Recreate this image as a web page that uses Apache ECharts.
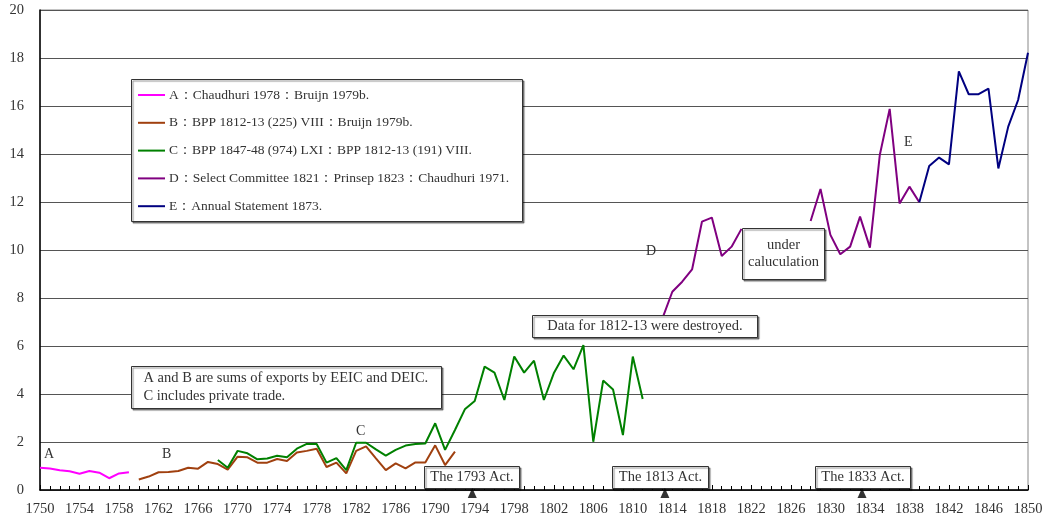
<!DOCTYPE html>
<html>
<head>
<meta charset="utf-8">
<script src="https://cdn.jsdelivr.net/npm/echarts@6/dist/echarts.min.js"></script>
<style>
html,body{margin:0;padding:0;background:#fff;}
#chart{width:1050px;height:521px;}
</style>
</head>
<body>
<div id="chart"></div>
<script>
// ---- data ----
const yearsA = [1750,1751,1752,1753,1754,1755,1756,1757,1758,1759];
const valuesA = [0.93,0.90,0.82,0.78,0.68,0.79,0.72,0.49,0.69,0.74];

const yearsB = [1760,1761,1762,1763,1764,1765,1766,1767,1768,1769,
                1770,1771,1772,1773,1774,1775,1776,1777,1778,1779,
                1780,1781,1782,1783,1784,1785,1786,1787,1788,1789,
                1790,1791,1792];
const valuesB = [0.44,0.56,0.74,0.75,0.79,0.93,0.89,1.17,1.08,0.85,
                 1.39,1.36,1.14,1.14,1.29,1.21,1.56,1.63,1.72,0.96,
                 1.14,0.69,1.63,1.82,1.32,0.83,1.11,0.90,1.15,1.15,
                 1.86,1.04,1.60];

const yearsC = [1768,1769,
                1770,1771,1772,1773,1774,1775,1776,1777,1778,1779,
                1780,1781,1782,1783,1784,1785,1786,1787,1788,1789,
                1790,1791,1792,1793,1794,1795,1796,1797,1798,1799,
                1800,1801,1802,1803,1804,1805,1806,1807,1808,1809,
                1810,1811];
const valuesC = [1.25,0.93,
                 1.63,1.53,1.28,1.31,1.43,1.36,1.72,1.92,1.92,1.14,
                 1.33,0.83,1.97,1.97,1.69,1.43,1.67,1.85,1.92,1.94,
                 2.78,1.67,2.50,3.36,3.71,5.14,4.89,3.75,5.56,4.89,
                 5.39,3.75,4.86,5.60,5.03,6.04,2.01,4.56,4.19,2.29,
                 5.56,3.79];

const yearsD = [1813,1814,1815,1816,1817,1818,1819,1820,1821,1822,1823,1824,1825,1826,1827,
                1828,1829,1830,1831,1832,1833,1834,1835,1836,1837,1838,1839];
const valuesD = [7.15,8.26,8.68,9.19,11.18,11.35,9.75,10.14,10.88,null,null,null,null,null,null,
                 11.21,12.54,10.63,9.82,10.14,11.39,10.10,13.96,15.88,11.94,12.64,11.99];

const yearsE = [1839,1840,1841,1842,1843,1844,1845,1846,1847,1848,1849,1850];
const valuesE = [11.99,13.50,13.85,13.57,17.44,16.49,16.49,16.72,13.40,15.14,16.25,18.22];

const seriesNames = [
  'A：Chaudhuri 1978：Bruijn 1979b.',
  'B：BPP 1812-13 (225) VIII：Bruijn 1979b.',
  'C：BPP 1847-48 (974) LXI：BPP 1812-13 (191) VIII.',
  'D：Select Committee 1821：Prinsep 1823：Chaudhuri 1971.',
  'E：Annual Statement 1873.'
];
const seriesColors = ['#FF00FF','#A0400F','#008000','#800080','#000080'];

const actYears = [1793.75, 1813.25, 1833.2];
const actLabels = ['The 1793 Act.','The 1813 Act.','The 1833 Act.'];

const xTickMin = 1750, xTickMax = 1850, xTickStep = 4;
const yTickMin = 0, yTickMax = 20, yTickStep = 2;

// ---- chart ----
const FONT = 'Liberation Serif';
const TXT = '#333';
const pairs = (xs, ys) => xs.map((x, i) => [x, ys[i]]);
const allYears = [yearsA, yearsB, yearsC, yearsD, yearsE];
const allValues = [valuesA, valuesB, valuesC, valuesD, valuesE];

const chart = echarts.init(document.getElementById('chart'), null, {renderer: 'canvas'});

function boxText(x, y, w, h, text, opts) {
  opts = opts || {};
  return {
    type: 'group', left: x, top: y, z: 10,
    children: [
      {type: 'rect', shape: {x: 0, y: 0, width: w, height: h},
       style: {fill: '#fff', stroke: '#333', lineWidth: 1,
               shadowColor: 'rgba(0,0,0,0.45)', shadowOffsetX: 1.5, shadowOffsetY: 1.5, shadowBlur: 1}, z: 10},
      {type: 'text', x: opts.align === 'left' ? (opts.pad || 10) : w / 2, y: h / 2,
       style: {text: text, fill: TXT, font: (opts.size || 14.5) + 'px "' + FONT + '"',
               textAlign: opts.align || 'center', textVerticalAlign: 'middle',
               lineHeight: opts.lineHeight || 17}, z: 11}
    ]
  };
}

function label(x, y, t) {
  return {type: 'text', left: x, top: y, z: 11,
          style: {text: t, fill: TXT, font: '14px "' + FONT + '"'}};
}

const series = seriesNames.map((name, i) => ({
  name: name,
  type: 'line',
  data: pairs(allYears[i], allValues[i]),
  showSymbol: false,
  symbol: 'none',
  connectNulls: false,
  lineStyle: {color: seriesColors[i], width: 2},
  itemStyle: {color: seriesColors[i]},
  z: 3,
  animation: false
}));

series.push({
  name: 'acts',
  type: 'scatter',
  data: actYears.map(y => [y, 0]),
  symbol: 'triangle',
  symbolSize: [9, 10],
  symbolOffset: [0, 3],
  itemStyle: {color: '#000'},
  clip: false,
  z: 12,
  silent: true,
  animation: false
});

const option = {
  animation: false,
  backgroundColor: '#fff',
  grid: {left: 40, right: 22, top: 10, bottom: 31, show: true,
         borderColor: '#888', borderWidth: 1, backgroundColor: 'transparent'},
  xAxis: {
    type: 'value', min: xTickMin, max: xTickMax, interval: xTickStep,
    axisLine: {show: true, lineStyle: {color: '#000', width: 1.5}},
    axisTick: {show: true, inside: true, length: 5, lineStyle: {color: '#000'}},
    minorTick: {show: true, splitNumber: 4, length: 4, lineStyle: {color: '#000'}},
    splitLine: {show: false},
    axisLabel: {color: TXT, fontFamily: FONT, fontSize: 14.5, margin: 12,
                formatter: v => String(v)}
  },
  yAxis: {
    type: 'value', min: yTickMin, max: yTickMax, interval: yTickStep,
    axisLine: {show: true, lineStyle: {color: '#000', width: 1.5}},
    axisTick: {show: false},
    splitLine: {show: true, lineStyle: {color: '#555', width: 1}},
    axisLabel: {color: TXT, fontFamily: FONT, fontSize: 14.5, margin: 16}
  },
  legend: {
    data: seriesNames,
    orient: 'vertical',
    left: 131, top: 79,
    padding: [9, 10, 8, 7],
    itemWidth: 27, itemHeight: 2, itemGap: 13.8,
    icon: 'rect',
    z: 20,
    selectedMode: false,
    textStyle: {color: TXT, fontFamily: FONT, fontSize: 13.5, lineHeight: 14, padding: [0, 0, 0, -1]}
  },
  graphic: [
    {type: 'rect', left: 131, top: 79, z: 9,
     shape: {width: 391, height: 142},
     style: {fill: '#fff', stroke: '#333', lineWidth: 1,
             shadowColor: 'rgba(0,0,0,0.45)', shadowOffsetX: 1.5, shadowOffsetY: 1.5, shadowBlur: 1}},
    boxText(131, 366, 310, 42, 'A and B are sums of exports by EEIC and DEIC.\nC includes private trade.', {align: 'left', pad: 12, lineHeight: 18, size: 14.5}),
    boxText(424, 466, 95, 22, actLabels[0]),
    boxText(612, 466, 96, 22, actLabels[1]),
    boxText(815, 466, 95, 22, actLabels[2]),
    boxText(532, 315, 225, 22, 'Data for 1812-13 were destroyed.'),
    boxText(742, 228, 82, 51, 'under\ncaluculation', {lineHeight: 17}),
    label(44, 447, 'A'),
    label(162, 447, 'B'),
    label(356, 424, 'C'),
    label(646, 244, 'D'),
    label(904, 135, 'E')
  ],
  series: series
};
chart.setOption(option);
</script>
</body>
</html>
